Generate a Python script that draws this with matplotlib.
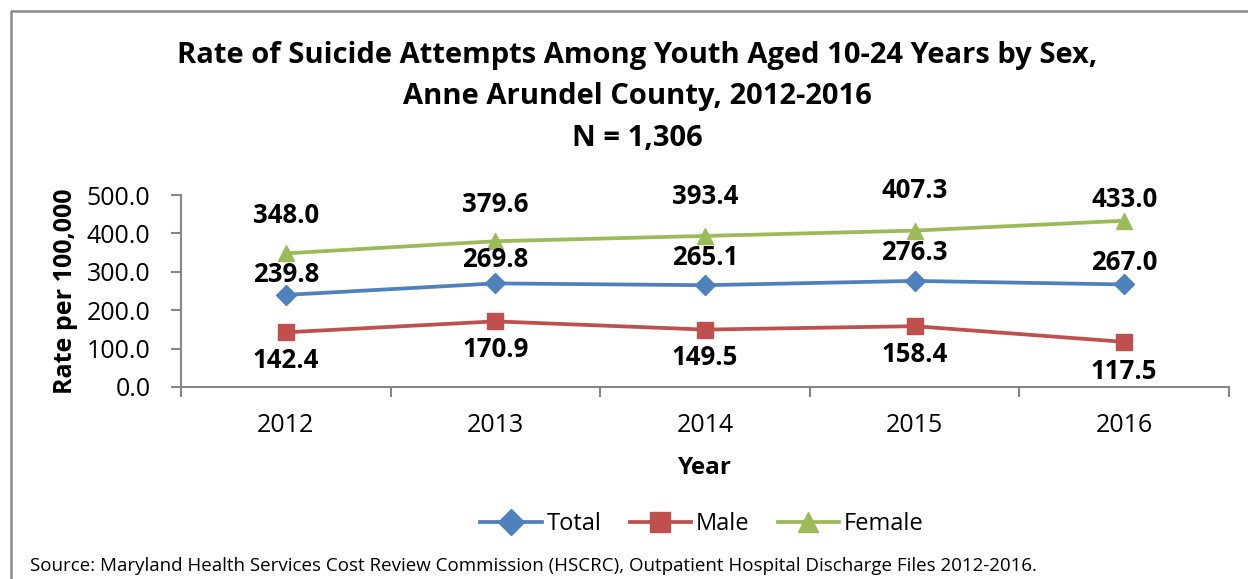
import matplotlib
matplotlib.use('Agg')
import matplotlib.pyplot as plt
from matplotlib.lines import Line2D

years = ['2012', '2013', '2014', '2015', '2016']
total = [239.8, 269.8, 265.1, 276.3, 267.0]
male = [142.4, 170.9, 149.5, 158.4, 117.5]
female = [348.0, 379.6, 393.4, 407.3, 433.0]
y_ticks = [0, 100, 200, 300, 400, 500]

# label offsets in pixels (Excel-style manual placement)
total_off = [20, 24, 28, 28, 22]
male_off = [-28, -28, -28, -28, -30]
female_off = [38, 37, 39, 40, 21]

plt.rcParams['font.family'] = ['Open Sans', 'DejaVu Sans']

fig = plt.figure(figsize=(12.48, 5.79), dpi=100)
ax = fig.add_axes([181 / 1248, 1 - 387 / 579, 1048 / 1248, 192 / 579])

x = list(range(len(years)))
series = [
    ('Total', total, '#4F81BD', 'D', 10, total_off),
    ('Male', male, '#C0504D', 's', 11, male_off),
    ('Female', female, '#9BBB59', '^', 12, female_off),
]
for name, vals, col, mk, ms, offs in series:
    ax.plot(x, vals, color=col, linewidth=2.7, marker=mk, markersize=ms,
            markeredgecolor=col, label=name, clip_on=False, zorder=3)
    for xi, v, o in zip(x, vals, offs):
        ax.annotate(f'{v:.1f}', (xi, v), xytext=(0, o), textcoords='offset pixels',
                    ha='center', va='center', fontsize=18.5, fontweight='bold',
                    color='black', zorder=4)

ax.set_xlim(-0.5, len(years) - 0.5)
ax.set_ylim(0, 500)
ax.set_yticks(y_ticks)
ax.set_yticklabels([f'{t:.1f}' for t in y_ticks], fontsize=18)
ax.set_xticks(x)
ax.set_xticklabels(years, fontsize=18)
ax.set_xticks([i - 0.5 for i in range(len(years) + 1)], minor=True)
ax.tick_params(axis='x', which='major', length=0, pad=19)
ax.tick_params(axis='x', which='minor', length=7, width=1.5, color='#868686')
ax.tick_params(axis='y', length=7, width=1.5, color='#868686', pad=15)

for s in ['top', 'right']:
    ax.spines[s].set_visible(False)
for s in ['left', 'bottom']:
    ax.spines[s].set_color('#868686')
    ax.spines[s].set_linewidth(1.5)

ax.set_ylabel('Rate per 100,000', fontsize=18, fontweight='bold', labelpad=6)
ax.set_xlabel('Year', fontsize=17.5, fontweight='bold', labelpad=13)

fig.text(637 / 1248, 1 - 41 / 579,
         'Rate of Suicide Attempts Among Youth Aged 10-24 Years by Sex,\n'
         'Anne Arundel County, 2012-2016\nN = 1,306',
         ha='center', va='top', fontsize=21, fontweight='bold',
         linespacing=1.56, transform=fig.transFigure)

handles = [Line2D([], [], color=c, linewidth=2.7, marker=m, markersize=ms + 3,
                  markeredgecolor=c) for _, _, c, m, ms, _ in series]
fig.legend(handles, [s[0] for s in series], loc='center',
           bbox_to_anchor=(702 / 1248, 1 - 524 / 579), ncol=3, frameon=False,
           fontsize=17, handlelength=2.6, columnspacing=1.2, handletextpad=0.2)

fig.text(30 / 1248, 1 - 566 / 579,
         'Source: Maryland Health Services Cost Review Commission (HSCRC), '
         'Outpatient Hospital Discharge Files 2012-2016.',
         ha='left', va='center', fontsize=13.5)

# chart frame (top and left edges visible)
fig.add_artist(Line2D([11 / 1248, 11 / 1248, 1.0], [0.0, 1 - 11 / 579, 1 - 11 / 579],
                      transform=fig.transFigure, color='#8C8C8C', linewidth=1.8))

fig.savefig('out.png', dpi=100)
